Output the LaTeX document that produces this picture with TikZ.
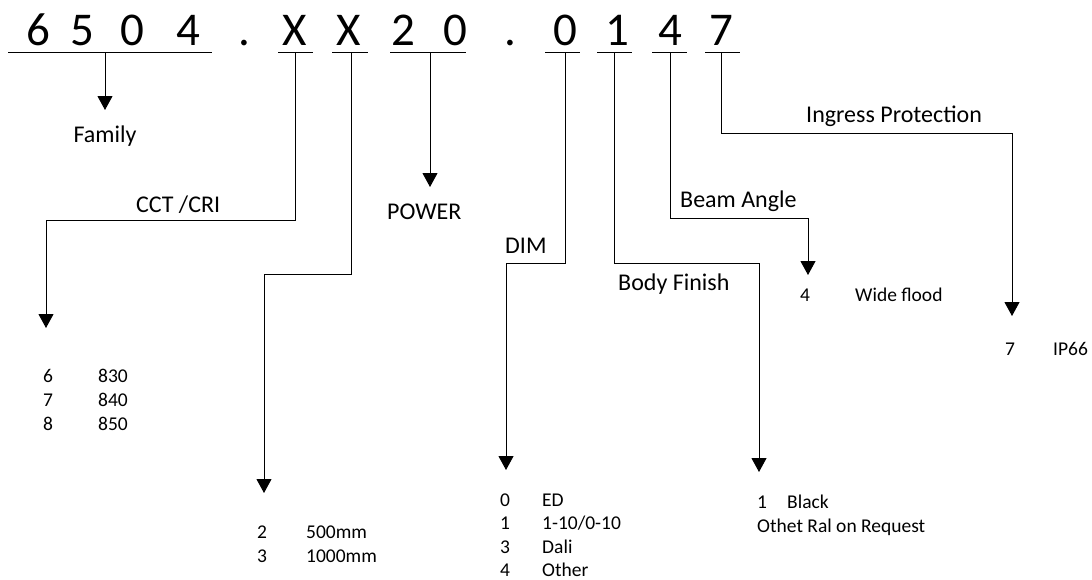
\documentclass[tikz,border=0pt]{standalone}
\usepackage{fontspec}
\setmainfont{Carlito}
\usetikzlibrary{arrows.meta}
\begin{document}
\begin{tikzpicture}[x=1pt,y=-1pt,
  ch/.style={inner sep=0pt, anchor=base, font=\fontsize{47}{47}\selectfont},
  lbl/.style={inner sep=0pt, anchor=base west, font=\fontsize{24}{24}\selectfont},
  itm/.style={inner sep=0pt, anchor=base west, font=\fontsize{19.5}{19.5}\selectfont},
  uline/.style={line width=1pt},
  conn/.style={line width=1pt, -{Triangle[width=15pt,length=14pt]}},
]
\useasboundingbox (0,0) rectangle (1092,579);
% code characters
\node[ch] (c1) at (38,45) {6};
\node[ch] (c2) at (82,45) {5};
\node[ch] (c3) at (132,45) {0};
\node[ch] (c4) at (188,45) {4};
\node[ch] (d1) at (244,45) {.};
\node[ch] (c5) at (295,45) {X};
\node[ch] (c6) at (349,45) {X};
\node[ch] (c7) at (403,45) {2};
\node[ch] (c8) at (455,45) {0};
\node[ch] (d2) at (510,45) {.};
\node[ch] (c9) at (565,45) {0};
\node[ch] (c10) at (617,45) {1};
\node[ch] (c11) at (670,45) {4};
\node[ch] (c12) at (721,45) {7};
% underlines
\coordinate (l1a) at (8,52);   \coordinate (l1b) at (212,52);
\coordinate (l2a) at (278,52); \coordinate (l2b) at (313,52);
\coordinate (l3a) at (332,52); \coordinate (l3b) at (368,52);
\coordinate (l4a) at (390,52); \coordinate (l4b) at (466,52);
\coordinate (l5a) at (545,52); \coordinate (l5b) at (580,52);
\coordinate (l6a) at (597,52); \coordinate (l6b) at (632,52);
\coordinate (l7a) at (652,52); \coordinate (l7b) at (687,52);
\coordinate (l8a) at (705,52); \coordinate (l8b) at (740,52);
\foreach \i in {1,...,8} {\draw[uline] (l\i a) -- (l\i b);}
% connector start points, bends and tips
\coordinate (u1) at (105,52); \coordinate (t1) at (105,110);
\coordinate (u2) at (295,52); \coordinate (k2) at (46,220);  \coordinate (t2) at (46,328);
\coordinate (u3) at (351,52); \coordinate (k3) at (264,274); \coordinate (t3) at (264,493);
\coordinate (u4) at (430,52); \coordinate (t4) at (430,187);
\coordinate (u5) at (565,52); \coordinate (k5) at (506,263); \coordinate (t5) at (506,470);
\coordinate (u6) at (614,52); \coordinate (k6) at (759,263); \coordinate (t6) at (759,472);
\coordinate (u7) at (670,52); \coordinate (k7) at (808,218); \coordinate (t7) at (808,275);
\coordinate (u8) at (721,52); \coordinate (k8) at (1012,133); \coordinate (t8) at (1012,316);
\draw[conn] (u1) -- (t1);
\draw[conn] (u2) |- (k2) -- (t2);
\draw[conn] (u3) |- (k3) -- (t3);
\draw[conn] (u4) -- (t4);
\draw[conn] (u5) |- (k5) -- (t5);
\draw[conn] (u6) |- (k6) -- (t6);
\draw[conn] (u7) |- (k7) -- (t7);
\draw[conn] (u8) |- (k8) -- (t8);
% labels
\node[lbl, anchor=base] (fam) at (105,142) {Family};
\node[lbl] (cct) at (136,212) {CCT /CRI};
\node[lbl] (pow) at (387,219) {POWER};
\node[lbl] (dim) at (505,253) {DIM};
\node[lbl] (body) at (618,290) {Body Finish};
\node[lbl] (beam) at (680,207) {Beam Angle};
\node[lbl] (ingr) at (806,122) {Ingress Protection};
% CCT list
\node[itm] (a1) at (43,382) {6}; \node[itm] (a1t) at (98,382) {830};
\node[itm] (a2) at (43,406) {7}; \node[itm] (a2t) at (98,406) {840};
\node[itm] (a3) at (43,430) {8}; \node[itm] (a3t) at (98,430) {850};
% length list
\node[itm] (b1) at (257,538) {2}; \node[itm] (b1t) at (306,538) {500mm};
\node[itm] (b2) at (257,562) {3}; \node[itm] (b2t) at (306,562) {1000mm};
% DIM list
\node[itm] (e1) at (500,506) {0}; \node[itm] (e1t) at (542,506) {ED};
\node[itm] (e2) at (500,529.5) {1}; \node[itm] (e2t) at (542,529.5) {1-10/0-10};
\node[itm] (e3) at (500,553) {3}; \node[itm] (e3t) at (542,553) {Dali};
\node[itm] (e4) at (500,576) {4}; \node[itm] (e4t) at (542,576) {Other};
% body finish list
\node[itm] (f1) at (757,508) {1}; \node[itm] (f1t) at (787,508) {Black};
\node[itm] (f2) at (757,532) {Othet Ral on Request};
% beam list
\node[itm] (g1) at (800,301) {4}; \node[itm] (g1t) at (855,301) {Wide flood};
% IP list
\node[itm] (h1) at (1005,355) {7}; \node[itm] (h1t) at (1053,355) {IP66};
\end{tikzpicture}
\end{document}
